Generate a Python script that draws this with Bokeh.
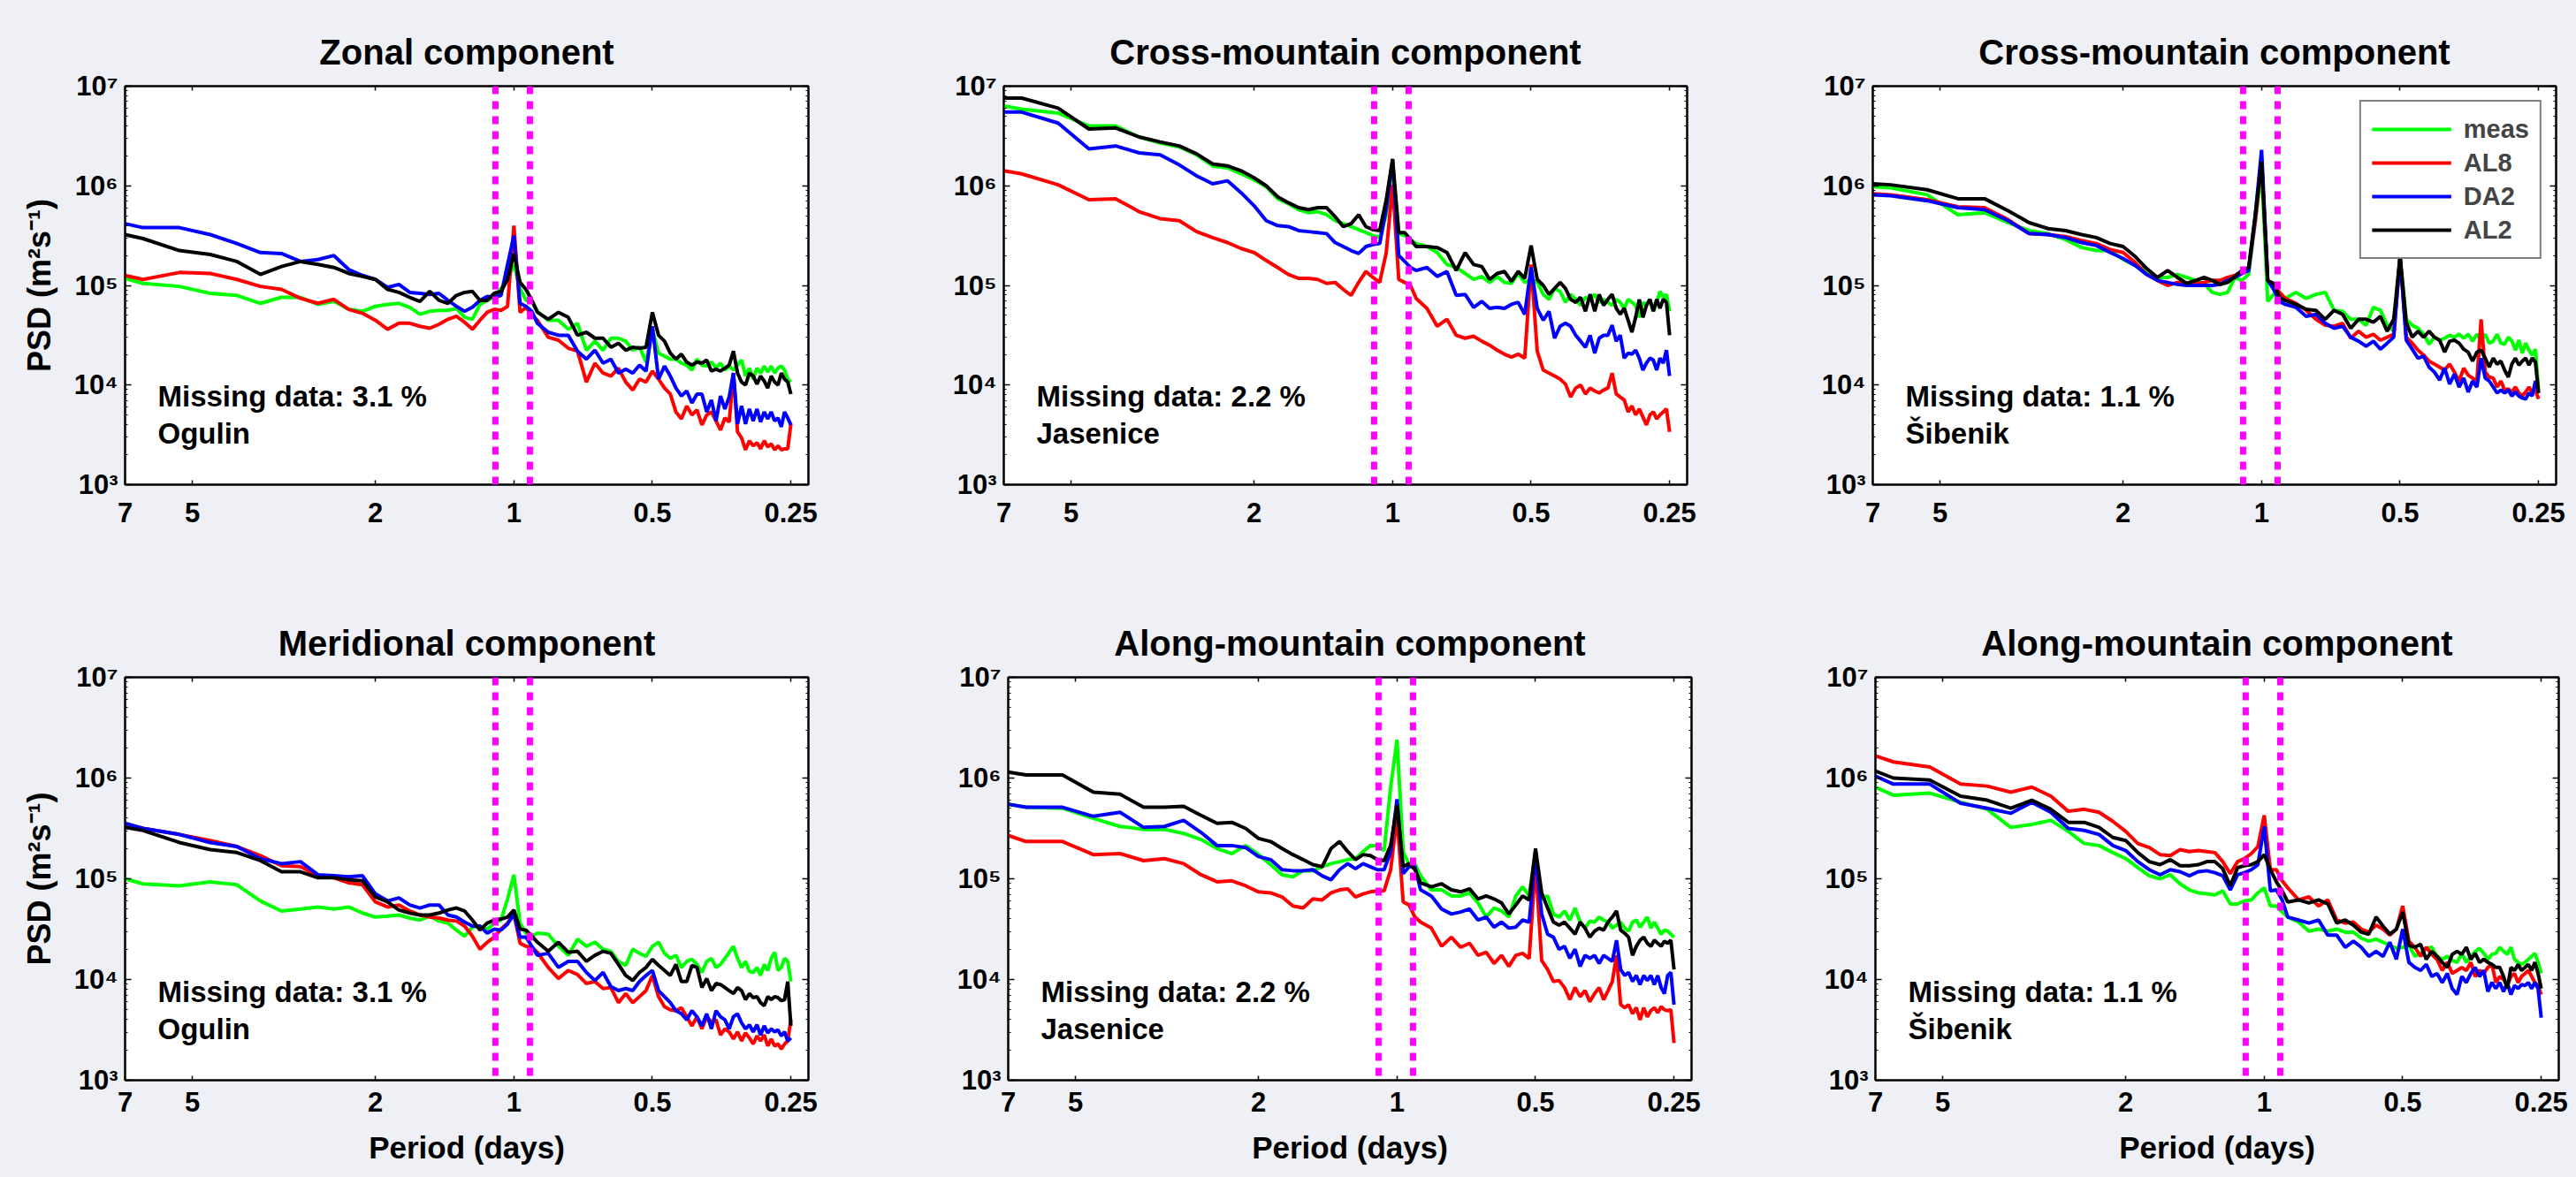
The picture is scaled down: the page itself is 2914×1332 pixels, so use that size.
import numpy as np
from bokeh.plotting import figure
from bokeh.models import (Range1d, FixedTicker, Span, Label, Legend, LogAxis,
                          LegendItem, ColumnDataSource)
from bokeh.layouts import column, row
from bokeh.embed import file_html
from bokeh.resources import INLINE

# ---------------------------------------------------------------- data
# spectral bins (resolution 1/32 cycles per day); first point is the 7-day edge
FFT_BINS = list(range(5, 37)) + list(range(38, 129, 2))
PERIOD_DAYS = [7.0] + [32.0 / k for k in FFT_BINS]

SERIES = ["meas", "AL8", "DA2", "AL2"]
COLORS = ["#00FF00", "#FF0000", "#0000FF", "#000000"]

X_TICKS = [7, 5, 2, 1, 0.5, 0.25]
X_TICK_LABELS = ["7", "5", "2", "1", "0.5", "0.25"]
Y_TICKS = [1000, 10000, 100000, 1000000, 10000000]
Y_TICK_LABELS = ["10\u00b3", "10\u2074", "10\u2075", "10\u2076", "10\u2077"]
DIURNAL_BAND_DAYS = [1.097, 0.923]

# log10 of PSD (m^2 s^-1)
# --- Zonal component, Ogulin
ZON_MEAS = [5.07, 5.02, 4.99, 4.92, 4.90, 4.82, 4.88, 4.88, 4.81,
            4.84, 4.76, 4.74, 4.79, 4.81, 4.82, 4.78, 4.71,
            4.74, 4.75, 4.75, 4.77, 4.68, 4.66, 4.81, 4.85,
            4.88, 4.97, 5.06, 5.21, 4.97, 4.85, 4.85, 4.74,
            4.65, 4.65, 4.56, 4.62, 4.35, 4.44, 4.35, 4.47,
            4.47, 4.44, 4.35, 4.38, 4.23, 4.56, 4.32, 4.29,
            4.26, 4.26, 4.22, 4.20, 4.15, 4.26, 4.20, 4.19,
            4.23, 4.17, 4.22, 4.15, 4.19, 4.15, 4.20, 4.25,
            4.09, 4.17, 4.06, 4.17, 4.12, 4.19, 4.13, 4.19,
            4.12, 4.17, 4.19, 4.15, 4.06, 4.03]
ZON_AL8 = [5.10, 5.06, 5.13, 5.12, 5.06, 4.99, 4.96, 4.87, 4.82,
           4.86, 4.76, 4.72, 4.65, 4.56, 4.62, 4.62, 4.59,
           4.57, 4.61, 4.66, 4.69, 4.63, 4.56, 4.65, 4.73,
           4.76, 4.75, 4.79, 5.60, 4.73, 4.78, 4.70, 4.65,
           4.48, 4.45, 4.37, 4.34, 4.03, 4.22, 4.12, 4.09,
           4.17, 4.03, 3.95, 4.06, 4.03, 4.14, 4.06, 3.97,
           3.91, 3.73, 3.66, 3.79, 3.70, 3.75, 3.60, 3.70,
           3.73, 3.64, 3.55, 3.67, 3.63, 4.12, 3.53, 3.47,
           3.35, 3.44, 3.39, 3.42, 3.36, 3.44, 3.38, 3.41,
           3.35, 3.39, 3.35, 3.36, 3.36, 3.61]
ZON_DA2 = [5.62, 5.58, 5.58, 5.51, 5.42, 5.33, 5.32, 5.24, 5.26,
           5.30, 5.16, 5.10, 5.06, 4.98, 5.01, 4.93, 4.92,
           4.91, 4.92, 4.85, 4.79, 4.74, 4.78, 4.85, 4.89,
           4.88, 4.90, 5.21, 5.50, 4.82, 4.79, 4.74, 4.62,
           4.53, 4.50, 4.50, 4.34, 4.26, 4.35, 4.22, 4.26,
           4.12, 4.16, 4.12, 4.20, 4.14, 4.59, 4.06, 4.19,
           4.09, 3.97, 3.89, 3.94, 3.82, 3.91, 3.91, 3.73,
           3.85, 3.64, 3.89, 3.76, 3.88, 4.12, 3.61, 3.79,
           3.61, 3.76, 3.64, 3.76, 3.63, 3.73, 3.66, 3.73,
           3.64, 3.67, 3.58, 3.73, 3.67, 3.60]
ZON_AL2 = [5.51, 5.47, 5.35, 5.31, 5.24, 5.11, 5.19, 5.24, 5.21,
           5.18, 5.12, 5.09, 5.06, 4.96, 4.93, 4.88, 4.84,
           4.94, 4.85, 4.82, 4.90, 4.93, 4.94, 4.85, 4.85,
           4.92, 4.94, 5.06, 5.32, 5.03, 4.96, 4.85, 4.73,
           4.66, 4.73, 4.68, 4.50, 4.53, 4.47, 4.47, 4.38,
           4.42, 4.35, 4.38, 4.37, 4.38, 4.73, 4.50, 4.44,
           4.32, 4.26, 4.31, 4.23, 4.20, 4.23, 4.22, 4.25,
           4.14, 4.16, 4.14, 4.17, 4.20, 4.34, 4.12, 4.03,
           4.00, 4.12, 4.09, 4.01, 4.09, 4.04, 3.97, 4.09,
           4.03, 4.00, 4.12, 4.06, 4.03, 3.91]

# --- Cross-mountain component, Jasenice
CRJ_MEAS = [6.80, 6.77, 6.73, 6.60, 6.60, 6.49, 6.43, 6.39, 6.31,
            6.20, 6.18, 6.12, 6.06, 5.99, 5.87, 5.82, 5.76,
            5.73, 5.74, 5.71, 5.65, 5.62, 5.59, 5.56, 5.53,
            5.50, 5.48, 5.71, 6.21, 5.52, 5.50, 5.46, 5.42,
            5.39, 5.33, 5.21, 5.18, 5.12, 5.06, 5.09, 5.03,
            5.09, 5.03, 5.02, 5.12, 5.03, 5.06, 5.03, 4.91,
            4.86, 4.97, 4.94, 4.83, 4.91, 4.86, 4.80, 4.88,
            4.86, 4.91, 4.83, 4.86, 4.83, 4.80, 4.86, 4.83,
            4.77, 4.86, 4.83, 4.80, 4.68, 4.83, 4.80, 4.86,
            4.74, 4.83, 4.94, 4.88, 4.91, 4.74]
CRJ_AL8 = [6.15, 6.12, 6.01, 5.86, 5.87, 5.74, 5.67, 5.65, 5.54,
           5.48, 5.43, 5.37, 5.33, 5.25, 5.18, 5.11, 5.07,
           5.07, 5.06, 5.02, 5.03, 4.96, 4.90, 5.03, 5.14,
           5.08, 5.03, 5.33, 6.01, 5.06, 5.03, 5.00, 4.87,
           4.77, 4.59, 4.66, 4.50, 4.47, 4.49, 4.44, 4.40,
           4.35, 4.31, 4.28, 4.31, 4.27, 5.21, 4.34, 4.15,
           4.12, 4.09, 4.06, 4.01, 3.88, 3.97, 4.00, 3.91,
           3.97, 3.94, 3.92, 3.95, 3.97, 4.12, 3.91, 3.88,
           3.85, 3.73, 3.79, 3.70, 3.76, 3.68, 3.60, 3.70,
           3.73, 3.66, 3.70, 3.73, 3.76, 3.53]
CRJ_DA2 = [6.74, 6.74, 6.63, 6.37, 6.40, 6.33, 6.31, 6.21, 6.10,
           6.02, 6.05, 5.93, 5.80, 5.65, 5.60, 5.59, 5.55,
           5.54, 5.53, 5.52, 5.43, 5.39, 5.35, 5.32, 5.39,
           5.41, 5.42, 5.77, 6.26, 5.30, 5.24, 5.18, 5.15,
           5.18, 5.09, 5.14, 4.90, 4.91, 4.78, 4.84, 4.77,
           4.78, 4.77, 4.81, 4.83, 4.71, 5.18, 4.77, 4.65,
           4.74, 4.47, 4.59, 4.62, 4.59, 4.50, 4.44, 4.38,
           4.50, 4.32, 4.47, 4.50, 4.50, 4.60, 4.44, 4.50,
           4.27, 4.32, 4.31, 4.35, 4.27, 4.15, 4.22, 4.27,
           4.25, 4.15, 4.27, 4.22, 4.35, 4.09]
CRJ_AL2 = [6.88, 6.88, 6.78, 6.57, 6.58, 6.49, 6.44, 6.40, 6.32,
           6.22, 6.20, 6.15, 6.08, 6.00, 5.89, 5.83, 5.78,
           5.76, 5.78, 5.78, 5.69, 5.59, 5.62, 5.71, 5.59,
           5.56, 5.55, 5.86, 6.27, 5.53, 5.53, 5.46, 5.39,
           5.39, 5.38, 5.33, 5.15, 5.33, 5.21, 5.19, 5.06,
           5.12, 5.14, 5.04, 5.14, 5.07, 5.40, 5.06, 5.00,
           4.91, 4.97, 5.03, 4.97, 4.86, 4.83, 4.88, 4.74,
           4.91, 4.74, 4.91, 4.80, 4.86, 4.91, 4.77, 4.71,
           4.77, 4.65, 4.53, 4.68, 4.86, 4.68, 4.80, 4.86,
           4.74, 4.86, 4.77, 4.86, 4.83, 4.50]

# --- Cross-mountain component, Sibenik
CRS_MEAS = [5.99, 5.98, 5.91, 5.71, 5.73, 5.63, 5.55, 5.52, 5.46,
            5.38, 5.35, 5.35, 5.26, 5.20, 5.15, 5.08, 5.08,
            5.11, 5.08, 5.05, 5.02, 4.93, 4.91, 4.93, 5.08,
            5.05, 5.11, 5.64, 6.15, 4.84, 4.91, 4.93, 4.87,
            4.93, 4.87, 4.91, 4.93, 4.75, 4.74, 4.66, 4.66,
            4.60, 4.78, 4.75, 4.60, 4.54, 5.29, 4.66, 4.60,
            4.57, 4.51, 4.41, 4.48, 4.45, 4.47, 4.50, 4.48,
            4.51, 4.47, 4.51, 4.44, 4.51, 4.45, 4.51, 4.42,
            4.44, 4.51, 4.42, 4.41, 4.48, 4.44, 4.35, 4.45,
            4.32, 4.42, 4.35, 4.30, 4.36, 3.95]
CRS_AL8 = [5.92, 5.91, 5.86, 5.79, 5.78, 5.66, 5.52, 5.51, 5.49,
           5.45, 5.42, 5.36, 5.33, 5.23, 5.11, 5.05, 5.00,
           5.03, 5.02, 5.02, 5.03, 5.05, 5.05, 5.08, 5.10,
           5.14, 5.17, 5.64, 6.25, 5.05, 5.00, 4.93, 4.87,
           4.82, 4.75, 4.66, 4.60, 4.59, 4.62, 4.47, 4.54,
           4.48, 4.51, 4.45, 4.48, 4.51, 5.29, 4.48, 4.42,
           4.35, 4.30, 4.24, 4.21, 4.18, 4.15, 4.21, 4.13,
           4.04, 4.17, 4.10, 4.07, 4.04, 4.66, 4.13, 4.08,
           4.07, 3.98, 4.04, 3.95, 3.96, 3.93, 3.98, 3.92,
           3.89, 3.93, 3.98, 3.92, 3.95, 3.86]
CRS_DA2 = [5.91, 5.90, 5.85, 5.78, 5.76, 5.65, 5.52, 5.51, 5.48,
           5.43, 5.40, 5.33, 5.27, 5.20, 5.11, 5.05, 5.03,
           5.01, 5.00, 5.00, 5.00, 5.00, 5.01, 5.05, 5.08,
           5.12, 5.15, 5.70, 6.36, 5.05, 4.96, 4.84, 4.81,
           4.78, 4.69, 4.71, 4.62, 4.57, 4.59, 4.48, 4.44,
           4.39, 4.44, 4.36, 4.42, 4.48, 5.29, 4.45, 4.36,
           4.27, 4.29, 4.18, 4.13, 4.05, 4.17, 4.01, 4.11,
           3.98, 4.07, 3.93, 4.04, 3.98, 4.27, 4.07, 4.04,
           3.98, 3.92, 3.95, 3.92, 3.95, 3.89, 3.93, 3.89,
           3.87, 3.86, 3.92, 3.89, 4.04, 3.92]
CRS_AL2 = [6.02, 6.01, 5.96, 5.87, 5.87, 5.75, 5.63, 5.57, 5.55,
           5.51, 5.48, 5.42, 5.39, 5.29, 5.17, 5.08, 5.15,
           5.08, 5.02, 5.05, 5.08, 5.05, 5.01, 5.03, 5.09,
           5.15, 5.18, 5.70, 6.24, 5.05, 5.02, 4.88, 4.85,
           4.81, 4.76, 4.75, 4.66, 4.75, 4.71, 4.57, 4.66,
           4.66, 4.63, 4.69, 4.54, 4.66, 5.29, 4.63, 4.48,
           4.54, 4.48, 4.54, 4.48, 4.45, 4.33, 4.44, 4.45,
           4.42, 4.36, 4.33, 4.24, 4.33, 4.35, 4.27, 4.18,
           4.27, 4.21, 4.24, 4.15, 4.08, 4.21, 4.27, 4.20,
           4.24, 4.27, 4.20, 4.27, 4.23, 3.92]

# --- Meridional component, Ogulin
MER_MEAS = [5.00, 4.95, 4.93, 4.97, 4.94, 4.78, 4.68, 4.70, 4.72,
            4.70, 4.72, 4.66, 4.62, 4.63, 4.64, 4.61, 4.59,
            4.63, 4.58, 4.56, 4.49, 4.43, 4.52, 4.53, 4.50,
            4.56, 4.59, 4.80, 5.04, 4.56, 4.46, 4.43, 4.46,
            4.45, 4.33, 4.24, 4.40, 4.33, 4.37, 4.30, 4.28,
            4.18, 4.14, 4.30, 4.26, 4.23, 4.33, 4.37, 4.26,
            4.21, 4.24, 4.12, 4.18, 4.20, 4.15, 4.07, 4.18,
            4.21, 4.12, 4.15, 4.21, 4.27, 4.33, 4.21, 4.12,
            4.18, 4.08, 4.07, 4.12, 4.04, 4.15, 4.09, 4.21,
            4.27, 4.09, 4.12, 4.21, 4.18, 3.98]
MER_AL8 = [5.54, 5.50, 5.44, 5.38, 5.32, 5.23, 5.13, 5.12, 5.03,
           5.01, 4.96, 4.94, 4.77, 4.72, 4.74, 4.68, 4.64,
           4.62, 4.61, 4.59, 4.58, 4.53, 4.43, 4.30, 4.37,
           4.42, 4.50, 4.56, 4.65, 4.36, 4.33, 4.32, 4.27,
           4.12, 4.01, 4.09, 4.05, 3.96, 3.98, 3.91, 3.92,
           3.77, 3.86, 3.77, 3.83, 3.89, 4.04, 3.83, 3.73,
           3.70, 3.69, 3.72, 3.63, 3.54, 3.63, 3.51, 3.63,
           3.58, 3.60, 3.45, 3.51, 3.48, 3.41, 3.48, 3.39,
           3.47, 3.42, 3.36, 3.44, 3.39, 3.45, 3.34, 3.41,
           3.34, 3.36, 3.31, 3.36, 3.39, 3.60]
MER_DA2 = [5.55, 5.50, 5.44, 5.36, 5.32, 5.20, 5.15, 5.17, 5.04,
           5.03, 5.02, 5.03, 4.85, 4.78, 4.81, 4.74, 4.71,
           4.74, 4.74, 4.64, 4.62, 4.57, 4.53, 4.53, 4.46,
           4.50, 4.49, 4.55, 4.65, 4.42, 4.42, 4.33, 4.24,
           4.26, 4.12, 4.18, 4.18, 4.07, 3.99, 4.07, 3.93,
           3.89, 3.91, 3.89, 3.98, 4.04, 4.09, 3.89, 3.83,
           3.77, 3.69, 3.66, 3.60, 3.69, 3.63, 3.54, 3.66,
           3.51, 3.69, 3.63, 3.60, 3.51, 3.63, 3.66, 3.57,
           3.51, 3.55, 3.48, 3.55, 3.45, 3.54, 3.47, 3.51,
           3.48, 3.50, 3.44, 3.48, 3.39, 3.42]
MER_AL2 = [5.51, 5.48, 5.36, 5.29, 5.26, 5.18, 5.07, 5.07, 5.01,
           5.01, 4.99, 4.98, 4.82, 4.77, 4.69, 4.66, 4.64,
           4.64, 4.66, 4.69, 4.71, 4.68, 4.59, 4.49, 4.56,
           4.59, 4.60, 4.62, 4.69, 4.50, 4.49, 4.43, 4.37,
           4.28, 4.37, 4.27, 4.28, 4.18, 4.24, 4.28, 4.26,
           4.15, 4.04, 3.99, 4.07, 4.12, 4.20, 4.14, 4.09,
           4.04, 4.15, 3.98, 3.98, 4.14, 4.12, 3.92, 4.01,
           3.89, 3.96, 3.95, 3.92, 3.89, 3.86, 3.92, 3.89,
           3.80, 3.86, 3.82, 3.83, 3.77, 3.74, 3.83, 3.80,
           3.83, 3.82, 3.79, 3.80, 3.98, 3.54]

# --- Along-mountain component, Jasenice
ALJ_MEAS = [5.74, 5.71, 5.70, 5.60, 5.52, 5.49, 5.49, 5.45, 5.39,
            5.30, 5.25, 5.33, 5.24, 5.14, 5.04, 5.02, 5.08,
            5.08, 5.12, 5.15, 5.17, 5.19, 5.20, 5.27, 5.33,
            5.33, 5.28, 5.91, 6.38, 5.27, 5.14, 5.15, 5.03,
            4.89, 4.89, 4.83, 4.83, 4.86, 4.76, 4.62, 4.71,
            4.68, 4.62, 4.83, 4.92, 4.83, 5.27, 4.80, 4.83,
            4.65, 4.62, 4.68, 4.59, 4.71, 4.57, 4.51, 4.58,
            4.57, 4.62, 4.59, 4.57, 4.51, 4.54, 4.57, 4.51,
            4.48, 4.57, 4.59, 4.52, 4.57, 4.62, 4.51, 4.57,
            4.51, 4.45, 4.49, 4.48, 4.45, 4.42]
ALJ_AL8 = [5.43, 5.37, 5.37, 5.24, 5.25, 5.18, 5.20, 5.15, 5.04,
           4.97, 4.98, 4.93, 4.87, 4.86, 4.82, 4.73, 4.71,
           4.80, 4.79, 4.86, 4.89, 4.90, 4.82, 4.85, 4.87,
           4.88, 4.88, 5.09, 5.62, 4.77, 4.74, 4.62, 4.57,
           4.51, 4.33, 4.42, 4.32, 4.36, 4.24, 4.27, 4.16,
           4.24, 4.13, 4.24, 4.26, 4.21, 5.15, 4.19, 4.10,
           3.98, 3.99, 3.92, 3.80, 3.92, 3.83, 3.89, 3.78,
           3.86, 3.92, 3.80, 3.89, 3.98, 4.24, 3.75, 3.72,
           3.75, 3.66, 3.72, 3.60, 3.72, 3.63, 3.69, 3.72,
           3.67, 3.73, 3.70, 3.69, 3.70, 3.37]
ALJ_DA2 = [5.74, 5.71, 5.71, 5.62, 5.66, 5.51, 5.52, 5.58, 5.46,
           5.33, 5.33, 5.31, 5.22, 5.19, 5.09, 5.08, 5.08,
           5.09, 5.03, 4.99, 5.09, 5.15, 5.10, 5.15, 5.12,
           5.09, 5.09, 5.27, 5.79, 5.05, 5.12, 5.12, 4.89,
           4.83, 4.70, 4.65, 4.67, 4.70, 4.59, 4.62, 4.52,
           4.57, 4.51, 4.52, 4.59, 4.57, 5.24, 4.65, 4.45,
           4.42, 4.30, 4.33, 4.21, 4.30, 4.13, 4.24, 4.21,
           4.24, 4.16, 4.24, 4.21, 4.18, 4.39, 4.10, 4.04,
           4.07, 3.98, 4.04, 3.95, 4.04, 3.99, 4.04, 3.95,
           4.04, 3.92, 3.86, 4.04, 4.07, 3.75]
ALJ_AL2 = [6.06, 6.03, 6.03, 5.86, 5.84, 5.71, 5.71, 5.72, 5.63,
           5.55, 5.56, 5.50, 5.40, 5.37, 5.30, 5.24, 5.19,
           5.14, 5.12, 5.30, 5.37, 5.27, 5.19, 5.24, 5.23,
           5.19, 5.18, 5.33, 5.73, 5.12, 5.15, 5.09, 4.96,
           4.92, 4.95, 4.89, 4.87, 4.90, 4.80, 4.83, 4.80,
           4.76, 4.65, 4.74, 4.83, 4.79, 5.30, 4.86, 4.71,
           4.57, 4.54, 4.57, 4.51, 4.45, 4.57, 4.51, 4.42,
           4.48, 4.51, 4.49, 4.57, 4.62, 4.68, 4.49, 4.46,
           4.42, 4.24, 4.33, 4.39, 4.42, 4.36, 4.33, 4.39,
           4.36, 4.33, 4.38, 4.36, 4.39, 4.10]

# --- Along-mountain component, Sibenik
ALS_MEAS = [5.91, 5.83, 5.85, 5.76, 5.69, 5.51, 5.54, 5.58, 5.47,
            5.35, 5.33, 5.26, 5.20, 5.11, 5.03, 5.00, 5.04,
            4.95, 4.89, 4.86, 4.85, 4.84, 4.88, 4.75, 4.75,
            4.78, 4.79, 4.86, 4.91, 4.73, 4.73, 4.67, 4.62,
            4.57, 4.48, 4.50, 4.48, 4.50, 4.47, 4.47, 4.41,
            4.38, 4.40, 4.37, 4.34, 4.31, 4.32, 4.34, 4.23,
            4.26, 4.31, 4.32, 4.23, 4.20, 4.23, 4.19, 4.17,
            4.26, 4.17, 4.23, 4.28, 4.31, 4.26, 4.20, 4.25,
            4.26, 4.32, 4.28, 4.25, 4.32, 4.20, 4.17, 4.15,
            4.17, 4.20, 4.23, 4.26, 4.17, 4.06]
ALS_AL8 = [6.22, 6.16, 6.11, 5.94, 5.92, 5.86, 5.91, 5.82, 5.67,
           5.69, 5.66, 5.57, 5.47, 5.35, 5.31, 5.24, 5.23,
           5.29, 5.27, 5.28, 5.27, 5.26, 5.17, 5.05, 5.17,
           5.20, 5.25, 5.32, 5.63, 5.09, 5.09, 4.98, 4.91,
           4.79, 4.82, 4.73, 4.79, 4.59, 4.56, 4.57, 4.50,
           4.47, 4.54, 4.50, 4.44, 4.50, 4.73, 4.38, 4.32,
           4.23, 4.32, 4.25, 4.20, 4.09, 4.17, 4.06, 4.09,
           4.12, 4.09, 4.17, 4.03, 4.09, 4.06, 4.12, 4.15,
           3.97, 4.03, 4.00, 3.94, 4.03, 4.06, 3.97, 4.03,
           4.06, 4.09, 4.03, 3.97, 3.94, 3.85]
ALS_DA2 = [6.02, 5.94, 5.94, 5.75, 5.70, 5.65, 5.76, 5.66, 5.50,
           5.48, 5.44, 5.33, 5.28, 5.17, 5.09, 5.04, 5.09,
           5.07, 5.03, 5.07, 5.08, 5.06, 5.03, 4.89, 5.04,
           5.06, 5.09, 5.14, 5.52, 4.88, 4.89, 4.79, 4.62,
           4.59, 4.56, 4.59, 4.44, 4.44, 4.32, 4.38, 4.32,
           4.23, 4.28, 4.23, 4.37, 4.20, 4.50, 4.17, 4.12,
           4.09, 4.15, 4.03, 4.06, 3.97, 4.06, 3.91, 3.85,
           4.03, 3.97, 4.06, 4.12, 4.03, 4.09, 3.88, 3.97,
           3.91, 3.97, 3.88, 3.97, 3.85, 3.94, 3.91, 3.95,
           3.94, 3.97, 3.91, 3.97, 3.91, 3.62]
ALS_AL2 = [6.07, 6.00, 5.98, 5.82, 5.78, 5.70, 5.78, 5.69, 5.56,
           5.56, 5.51, 5.41, 5.38, 5.26, 5.17, 5.14, 5.19,
           5.13, 5.13, 5.14, 5.17, 5.17, 5.10, 4.93, 5.11,
           5.13, 5.14, 5.17, 5.24, 5.09, 4.97, 4.88, 4.77,
           4.79, 4.76, 4.79, 4.75, 4.56, 4.59, 4.54, 4.47,
           4.45, 4.62, 4.53, 4.45, 4.50, 4.67, 4.34, 4.32,
           4.35, 4.20, 4.28, 4.23, 4.17, 4.12, 4.25, 4.28,
           4.25, 4.32, 4.20, 4.26, 4.17, 4.20, 4.17, 4.15,
           4.12, 4.12, 4.03, 3.91, 4.12, 4.09, 4.15, 4.09,
           4.12, 4.15, 4.09, 4.17, 4.06, 3.91]

PANELS = [
    dict(title="Zonal component", station="Ogulin", missing="3.1",
         data=[ZON_MEAS, ZON_AL8, ZON_DA2, ZON_AL2]),
    dict(title="Cross-mountain component", station="Jasenice", missing="2.2",
         data=[CRJ_MEAS, CRJ_AL8, CRJ_DA2, CRJ_AL2]),
    dict(title="Cross-mountain component", station="\u0160ibenik", missing="1.1",
         data=[CRS_MEAS, CRS_AL8, CRS_DA2, CRS_AL2]),
    dict(title="Meridional component", station="Ogulin", missing="3.1",
         data=[MER_MEAS, MER_AL8, MER_DA2, MER_AL2]),
    dict(title="Along-mountain component", station="Jasenice", missing="2.2",
         data=[ALJ_MEAS, ALJ_AL8, ALJ_DA2, ALJ_AL2]),
    dict(title="Along-mountain component", station="\u0160ibenik", missing="1.1",
         data=[ALS_MEAS, ALS_AL8, ALS_DA2, ALS_AL2]),
]

# ---------------------------------------------------------------- style
FONT = "Liberation Sans"
BG = "#EEF0F5"
FRAME_W = 773


def y_minor():
    out = []
    for d in Y_TICKS[:-1]:
        out += [d * m for m in range(2, 10)]
    return out


def style_axis(ax, tick_len=6, minor=True):
    ax.axis_line_color = "black"
    ax.axis_line_width = 2
    ax.major_tick_line_color = "black"
    ax.major_tick_line_width = 1.5
    ax.major_tick_in = tick_len
    ax.major_tick_out = 0
    ax.minor_tick_line_color = "black" if minor else None
    ax.minor_tick_in = 3
    ax.minor_tick_out = 0
    ax.major_label_text_font = FONT
    ax.major_label_text_font_style = "bold"
    ax.major_label_text_color = "black"
    ax.major_label_text_font_size = "31px"


def mirror_axis(ticks, minor, tick_len):
    # tick marks only (MATLAB-style box ticks on top / right side)
    ax = LogAxis(ticker=FixedTicker(ticks=ticks, minor_ticks=minor))
    style_axis(ax, tick_len=tick_len, minor=bool(minor))
    ax.major_label_text_font_size = "1px"
    ax.major_label_text_color = None
    ax.major_label_standoff = 0
    return ax


def make_panel(cfg, left, right, top, bottom, fh, ylabel, xlabel, legend,
               xlab_standoff):
    p = figure(x_axis_type="log", y_axis_type="log",
               x_range=Range1d(7, 0.229), y_range=Range1d(1e3, 1e7),
               frame_width=FRAME_W, frame_height=fh,
               min_border_left=left, min_border_right=right,
               min_border_top=top, min_border_bottom=bottom,
               output_backend="svg", toolbar_location=None,
               background_fill_color="white", border_fill_color=BG,
               outline_line_color="black", outline_line_width=2,
               styles={"background-color": BG})
    p.grid.visible = False
    p.title.text = cfg["title"]
    p.title.align = "center"
    p.title.text_font = FONT
    p.title.text_font_size = "40px"
    p.title.text_font_style = "bold"
    p.title.text_color = "black"
    p.title.standoff = 33

    xa = p.xaxis[0]
    xa.ticker = FixedTicker(ticks=X_TICKS, minor_ticks=[])
    xa.major_label_overrides = {t: s for t, s in zip(X_TICKS, X_TICK_LABELS)}
    style_axis(xa, tick_len=5, minor=False)
    xa.major_label_standoff = xlab_standoff
    if xlabel:
        xa.axis_label = "Period (days)"
        xa.axis_label_text_font = FONT
        xa.axis_label_text_font_size = "35px"
        xa.axis_label_text_font_style = "bold"
        xa.axis_label_text_color = "black"
        xa.axis_label_standoff = 18

    ya = p.yaxis[0]
    ya.ticker = FixedTicker(ticks=Y_TICKS, minor_ticks=y_minor())
    ya.major_label_overrides = {t: s for t, s in zip(Y_TICKS, Y_TICK_LABELS)}
    style_axis(ya, tick_len=7)
    ya.major_label_standoff = 8
    if ylabel:
        ya.axis_label = "PSD (m\u00b2s\u207b\u00b9)"
        ya.axis_label_text_font = FONT
        ya.axis_label_text_font_size = "36px"
        ya.axis_label_text_font_style = "bold"
        ya.axis_label_text_color = "black"
        ya.axis_label_standoff = 16

    p.add_layout(mirror_axis(X_TICKS, [], 5), "above")
    p.add_layout(mirror_axis(Y_TICKS, y_minor(), 7), "right")

    src = ColumnDataSource(dict(period=PERIOD_DAYS))
    renderers = []
    for name, color, vals in zip(SERIES, COLORS, cfg["data"]):
        src.data[name] = list(np.power(10.0, np.asarray(vals)))
        r = p.line(x="period", y=name, source=src, line_color=color,
                   line_width=4)
        renderers.append(r)

    for loc in DIURNAL_BAND_DAYS:
        p.add_layout(Span(location=loc, dimension="height", line_color="#FF00FF",
                          line_width=7, line_dash="9 8"))

    p.add_layout(Label(x=37, y=100, x_units="screen", y_units="screen",
                       text="Missing data: %s %%" % cfg["missing"],
                       text_font=FONT, text_font_size="33px",
                       text_font_style="bold", text_color="black",
                       text_baseline="alphabetic"))
    p.add_layout(Label(x=37, y=58, x_units="screen", y_units="screen",
                       text=cfg["station"], text_font=FONT,
                       text_font_size="33px", text_font_style="bold",
                       text_color="black", text_baseline="alphabetic"))

    if legend:
        lg = Legend(items=[LegendItem(label=n, renderers=[r])
                           for n, r in zip(SERIES, renderers)],
                    location="top_right", margin=16, padding=12, spacing=0,
                    glyph_width=90, glyph_height=38, label_height=38,
                    label_standoff=14, label_text_font=FONT,
                    label_text_font_size="29px", label_text_font_style="bold",
                    border_line_color="black", border_line_width=2,
                    background_fill_color="white", background_fill_alpha=1.0)
        p.add_layout(lg)
    return p


p1 = make_panel(PANELS[0], 141, 94, 97, 104, 451, True, False, False, 20)
p2 = make_panel(PANELS[1], 127, 83, 97, 104, 451, False, False, False, 20)
p3 = make_panel(PANELS[2], 127, 23, 97, 104, 451, False, False, True, 20)
p4 = make_panel(PANELS[3], 141, 94, 114, 110, 456, True, True, False, 13)
p5 = make_panel(PANELS[4], 132, 81, 114, 110, 456, False, True, False, 13)
p6 = make_panel(PANELS[5], 127, 20, 114, 110, 456, False, True, False, 13)

layout = column(row(p1, p2, p3, styles={"background-color": BG}),
                row(p4, p5, p6, styles={"background-color": BG}),
                styles={"background-color": BG})

open("out.html", "w").write(file_html(layout, INLINE, title="PSD spectra"))
